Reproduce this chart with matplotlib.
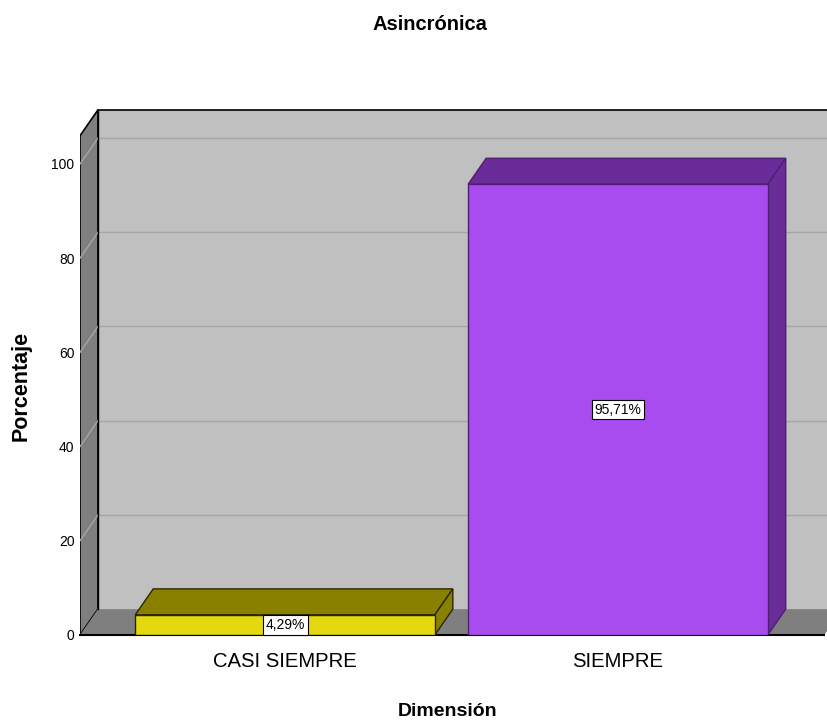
import matplotlib.pyplot as plt
from matplotlib.patches import Polygon

plt.rcParams["font.family"] = ["Liberation Sans", "DejaVu Sans"]

categories = ["CASI SIEMPRE", "SIEMPRE"]
values = [4.29, 95.71]
value_labels = ["4,29%", "95,71%"]
yticks = [0, 20, 40, 60, 80, 100]

front_colors = ["#E3D90E", "#A84CF0"]
shade_colors = ["#8A8000", "#6A2C98"]
edge_colors = ["#2A2600", "#4E1F72"]

# 3D geometry (data units)
bar_w = 0.9
dx, dy = 0.054, 5.5
x0, x1 = -0.616, 1.62
ytop = 106.0

fig = plt.figure(figsize=(8.27, 7.2), dpi=100)
ax = fig.add_axes([80 / 827, 85 / 720, 747 / 827, 535 / 720])
ax.set_xlim(x0, 1.628)
ax.set_ylim(0, (635 - 100) / 4.71)
for s in ax.spines.values():
    s.set_visible(False)
ax.set_xticks([0, 1])
ax.set_xticklabels(categories, fontsize=14.6)
ax.set_yticks(yticks)
ax.set_yticklabels([str(t) for t in yticks], fontsize=10)
ax.tick_params(axis="both", length=0)
ax.tick_params(axis="y", pad=4)
ax.tick_params(axis="x", pad=12)

# back wall
ax.add_patch(Polygon([(x0 + dx, dy), (x1 + 1, dy), (x1 + 1, ytop + dy), (x0 + dx, ytop + dy)],
                     closed=True, facecolor="#C0C0C0", edgecolor="none", zorder=1))
ax.plot([x0 + dx, x1 + 1], [ytop + dy, ytop + dy], color="black", lw=1.2, zorder=2, clip_on=False)
for t in yticks[1:]:
    ax.plot([x0 + dx, x1 + 1], [t + dy, t + dy], color="#A6A6A6", lw=1, zorder=1.5)

# left wall
ax.add_patch(Polygon([(x0, 0), (x0, ytop), (x0 + dx, ytop + dy), (x0 + dx, dy)],
                     closed=True, facecolor="#7F7F7F", edgecolor="black", lw=1.2, zorder=2))
for t in yticks[1:]:
    ax.plot([x0, x0 + dx], [t, t + dy], color="#A6A6A6", lw=1, zorder=2.5)

# floor
ax.add_patch(Polygon([(x0, 0), (x1, 0), (x1 + dx, dy), (x0 + dx, dy)],
                     closed=True, facecolor="#7F7F7F", edgecolor="none", zorder=2))
ax.plot([x0, x1], [0, 0], color="black", lw=1.5, zorder=2.6, clip_on=False)
ax.plot([x0 + dx, x0 + dx], [dy, ytop + dy], color="black", lw=1, zorder=2.6)

# bars
xs = list(range(len(categories)))
bars = ax.bar(xs, values, width=bar_w, color=front_colors, edgecolor=edge_colors, lw=1, zorder=4)
for rect, v, sc, ec in zip(bars, values, shade_colors, edge_colors):
    left = rect.get_x()
    right = left + rect.get_width()
    ax.add_patch(Polygon([(left, v), (right, v), (right + dx, v + dy), (left + dx, v + dy)],
                         closed=True, facecolor=sc, edgecolor=ec, lw=1, zorder=3))
    ax.add_patch(Polygon([(right, 0), (right, v), (right + dx, v + dy), (right + dx, dy)],
                         closed=True, facecolor=sc, edgecolor=ec, lw=1, zorder=3))

for x, v, lab in zip(xs, values, value_labels):
    ax.text(x, v / 2, lab, ha="center", va="center", fontsize=10, zorder=6,
            bbox=dict(boxstyle="square,pad=0.2", facecolor="white", edgecolor="black", lw=0.8))

fig.text(430 / 827, 1 - 25 / 720, "Asincrónica", ha="center", va="center", fontsize=14.5, fontweight="bold")
fig.text(21 / 827, 1 - 386 / 720, "Porcentaje", ha="center", va="center", rotation=90,
         fontsize=15.5, fontweight="bold")
fig.text(448 / 827, 1 - 711 / 720, "Dimensión", ha="center", va="center", fontsize=14, fontweight="bold")

fig.savefig("out.png", dpi=100)
